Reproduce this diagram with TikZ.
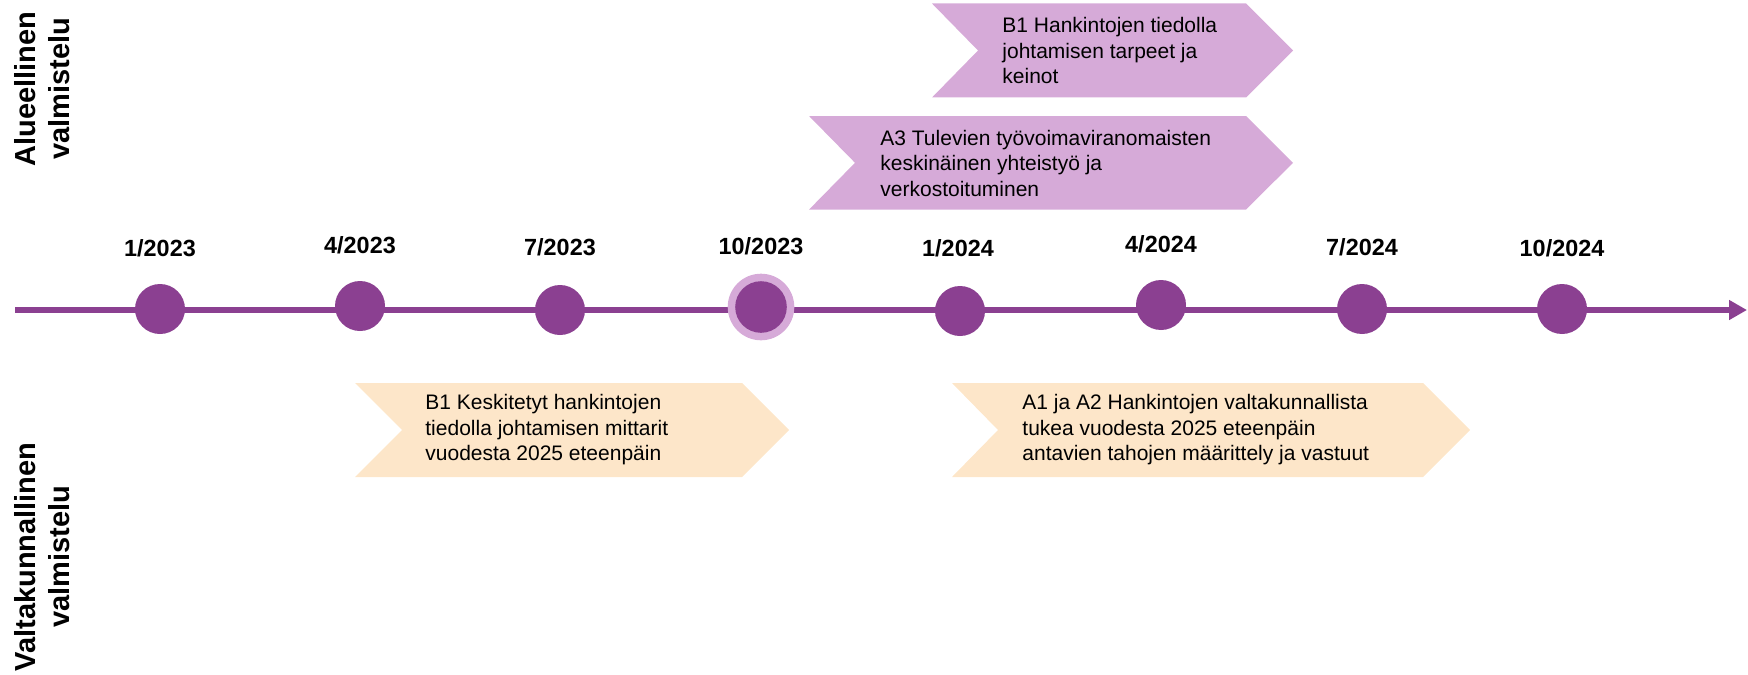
\documentclass[tikz,border=0pt]{standalone}
\usepackage{fontspec}
\setmainfont{Liberation Sans}
\usetikzlibrary{arrows.meta}
\definecolor{dpurple}{RGB}{139,64,145}
\definecolor{lpurple}{RGB}{214,170,216}
\definecolor{peach}{RGB}{253,230,201}
\begin{document}
\begin{tikzpicture}[x=0.5pt,y=-0.5pt,
 dot/.style={circle,fill=dpurple,inner sep=0pt,minimum size=25pt},
 datelbl/.style={anchor=base,font=\fontsize{11.7}{14}\selectfont\bfseries,inner sep=0pt},
 sidelbl/.style={rotate=90,align=center,font=\fontsize{14.5}{17}\selectfont\bfseries,inner sep=0pt},
 chevtxt/.style={anchor=west,align=left,font=\fontsize{10.5}{12.75}\selectfont,inner sep=0pt},
]
\useasboundingbox (0,0) rectangle (1748,674);
% chevrons
\fill[lpurple] (932,3.5) -- (1246,3.5) -- (1293,50.5) -- (1246,97.5) -- (932,97.5) -- (978,50.5) -- cycle;
\fill[lpurple] (809,116) -- (1246,116) -- (1293,162.8) -- (1246,209.6) -- (809,209.6) -- (855,162.8) -- cycle;
\fill[peach] (355,383) -- (742,383) -- (789,430) -- (742,477) -- (355,477) -- (402,430) -- cycle;
\fill[peach] (952,383) -- (1423,383) -- (1470,430) -- (1423,477) -- (952,477) -- (998,430) -- cycle;
\node[chevtxt] (tB1) at (1002,50.5) {B1 Hankintojen tiedolla\\johtamisen tarpeet ja\\keinot};
\node[chevtxt] (tA3) at (880,163) {A3 Tulevien työvoimaviranomaisten\\keskinäinen yhteistyö ja\\verkostoituminen};
\node[chevtxt] (bB1) at (425,430) {B1 Keskitetyt hankintojen\\tiedolla johtamisen mittarit\\vuodesta 2025 eteenpäin};
\node[chevtxt] (bA1) at (1022,430) {A1 ja A2 Hankintojen valtakunnallista\\tukea vuodesta 2025 eteenpäin\\antavien tahojen määrittely ja vastuut};
% timeline
\coordinate (tlstart) at (15,310);
\coordinate (tlend) at (1747,310);
\draw[dpurple,line width=2.7pt,-{Triangle[length=9pt,width=9.5pt]}] (tlstart) -- (tlend);
\node[dot] (d1) at (160,309) {};
\node[dot] (d2) at (360,306) {};
\node[dot] (d3) at (560,310) {};
\node[circle,fill=lpurple,inner sep=0pt,minimum size=33.3pt] (ring) at (761,307) {};
\node[dot,minimum size=25.8pt] (d4) at (761,307) {};
\node[dot] (d5) at (960,311) {};
\node[dot] (d6) at (1161,305) {};
\node[dot] (d7) at (1362,309) {};
\node[dot] (d8) at (1562,309) {};
\node[datelbl] (l1) at (160,256) {1/2023};
\node[datelbl] (l2) at (360,253) {4/2023};
\node[datelbl] (l3) at (560,255) {7/2023};
\node[datelbl] (l4) at (761,254) {10/2023};
\node[datelbl] (l5) at (958,256) {1/2024};
\node[datelbl] (l6) at (1161,252) {4/2024};
\node[datelbl] (l7) at (1362,255) {7/2024};
\node[datelbl] (l8) at (1562,256) {10/2024};
% side labels
\node[sidelbl] (side1) at (42,89) {Alueellinen\\valmistelu};
\node[sidelbl] (side2) at (42,557) {Valtakunnallinen\\valmistelu};
\end{tikzpicture}
\end{document}
